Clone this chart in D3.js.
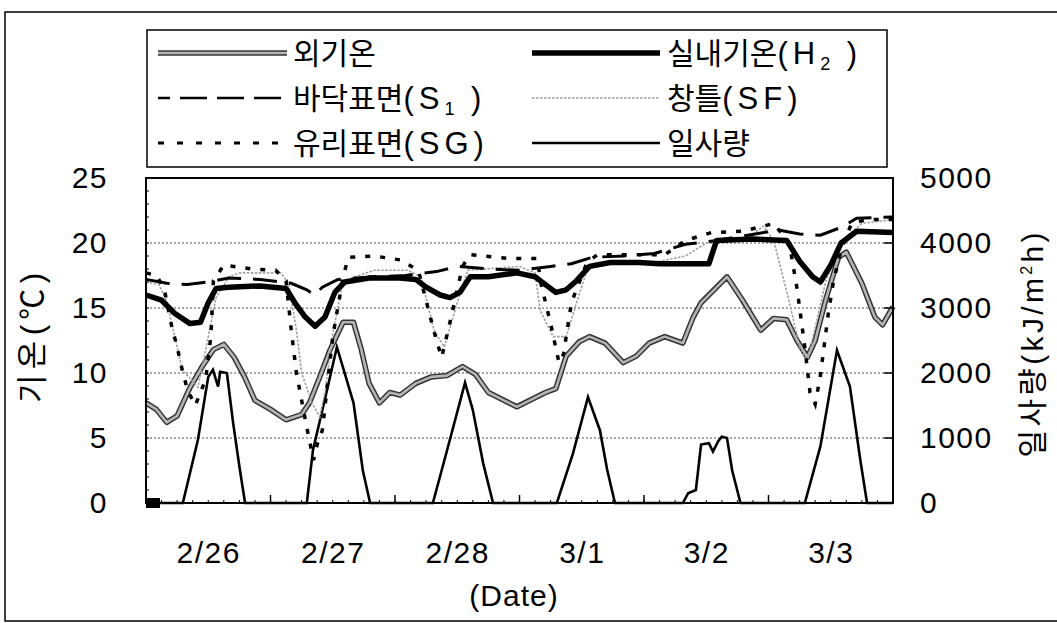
<!DOCTYPE html>
<html><head><meta charset="utf-8">
<script src="https://cdn.jsdelivr.net/npm/d3@7"></script>
<style>
html,body{margin:0;padding:0;background:#fff;}
svg{display:block;}
text{font-family:"Liberation Sans","Noto Sans CJK KR",sans-serif;fill:#000;}
</style></head>
<body>
<svg id="c" width="1057" height="623"></svg>
<script>
// ---------- data (hour since 2/26 00:00, value) ----------
const dateLabels = ["2/26","2/27","2/28","3/1","3/2","3/3"];
const tempTicks = [0,5,10,15,20,25];
const solarTicks = [0,1000,2000,3000,4000,5000];
const gridTemps = [5,10,15,20];

// 외기온 (outdoor air, °C)
const outdoor = [[0,7.7],[2,7.2],[4,6.2],[6,6.7],[8.5,8.9],[11,10.6],[13,11.8],[15,12.2],[17,11.2],[19,9.7],[21,7.9],[24,7.2],[27,6.4],[30,6.8],[31.5,7.7],[33.5,9.7],[35.5,11.8],[38,13.9],[40,13.9],[41.5,11.8],[43,9.2],[45,7.7],[47,8.5],[49,8.3],[52,9.2],[55,9.7],[58,9.8],[61,10.5],[63.5,9.9],[66,8.5],[69,7.9],[71.5,7.4],[74,7.9],[77,8.5],[79,8.8],[81,11.3],[83.5,12.4],[85.5,12.8],[88.5,12.3],[92,10.8],[94.5,11.3],[97,12.3],[100,12.8],[103.5,12.3],[105.5,14.3],[107,15.4],[109.5,16.4],[112,17.4],[115,15.6],[118.5,13.3],[121,14.2],[123.5,14.1],[125.5,12.5],[127.5,11.2],[129,12.5],[131,15.6],[133.5,18.9],[135,19.3],[138,16.9],[140.5,14.3],[142,13.7],[144,15.1]];
// 실내기온 (H2)
const indoor = [[0,16.0],[3,15.6],[5.5,14.6],[8.5,13.8],[10.5,13.9],[12,15.4],[13.5,16.5],[16,16.6],[22,16.7],[27,16.5],[28.7,15.4],[30.7,14.3],[32.6,13.6],[34.5,14.3],[36.4,16.2],[38.3,17.0],[43,17.3],[49,17.3],[52,17.2],[54,16.6],[56.7,16.0],[58.6,15.8],[60.5,16.2],[62.5,17.4],[66,17.4],[71.5,17.7],[75,17.4],[77,16.8],[79,16.2],[81,16.4],[83,17.1],[85.5,18.2],[89.5,18.5],[95,18.5],[99,18.4],[104,18.4],[108.5,18.4],[110,20.2],[117,20.3],[123.5,20.2],[126,18.6],[128.5,17.4],[130,17.0],[132,18.3],[134,20.0],[137,20.9],[144,20.8]];
// 바닥표면 (S1)
const floorS = [[0,17.2],[4,16.9],[8,16.8],[12,17.0],[16,17.3],[22,17.2],[28,16.9],[31,16.4],[32.5,16.0],[34,16.6],[37,17.2],[44,17.4],[50,17.5],[56,17.8],[60,18.2],[66,18.0],[72,17.9],[78,18.2],[82,18.4],[86,18.9],[92,19.0],[98,19.2],[104,19.9],[110,20.2],[116,20.6],[122,21.0],[126,20.7],[130,20.6],[134,21.2],[137,21.9],[144,22.0]];
// 창틀 (SF)
const frameSF = [[0,17.0],[2.5,16.8],[4,15.5],[6,12.0],[7,10.2],[8.5,9.6],[10,8.9],[11.5,11.8],[13.5,15.8],[16,17.4],[18,17.7],[26,17.7],[27.5,16.9],[29,13.3],[30,10.0],[32,7.7],[33.5,6.6],[34.5,8.5],[36,13.0],[38,17.1],[44,17.9],[50.5,17.9],[53,17.4],[55.5,13.3],[57.5,12.0],[60,15.4],[62,17.9],[72,18.2],[75,17.7],[76,14.8],[78.5,12.8],[81,12.8],[83,15.4],[85,17.9],[88,18.5],[98,18.5],[104,19.0],[108,20.0],[116,20.4],[119,21.3],[121,20.2],[124,15.5],[126,12.0],[127.5,11.0],[129,13.5],[131,17.0],[133,19.0],[135,20.5],[138,21.5],[144,21.8]];
// 유리표면 (SG)
const glassSG = [[0,17.7],[2,17.5],[3.5,16.5],[5,13.5],[6,12.0],[7,10.2],[8,8.7],[9.5,7.5],[11.5,9.5],[12.5,12.8],[13,17.1],[15,18.3],[20.5,18.0],[25,17.9],[27,17.1],[28,13.3],[29,10.0],[31,5.8],[32.3,3.3],[33,4.5],[34,5.6],[36,12.8],[38,17.4],[39,18.9],[44,19.0],[49,18.7],[52.5,17.9],[55,14.0],[56,12.5],[57,11.2],[59,14.6],[61,18.2],[62.5,19.1],[70,18.8],[75.5,18.8],[76,17.1],[78,13.8],[79.5,11.0],[80,10.8],[80.5,11.5],[82,15.4],[85,18.5],[87,19.1],[100,19.1],[104,20.2],[109,20.8],[115,20.9],[121,21.5],[124,20.0],[125.5,16.5],[127,12.0],[128,8.5],[129,7.6],[130,9.8],[131.5,14.5],[132.5,17.0],[134,19.5],[136,21.5],[139,21.8],[144,21.8]];
// 일사량 (kJ/m²h)
const solar = [[0,0],[7.1,0],[10,970],[12,1940],[12.9,2050],[13.9,1790],[14.3,2020],[15.6,2000],[16.8,1230],[18.1,510],[19.1,0],
 [31,0],[32.2,820],[34.5,1600],[36.8,2400],[40,1540],[41.8,500],[43.2,0],
 [55.3,0],[58,800],[61.5,1850],[63,1430],[65,610],[66.9,0],
 [79.2,0],[82.3,760],[85.2,1630],[87.5,1120],[88.9,510],[90.4,0],
 [103.5,0],[104.5,150],[106,200],[107,900],[108.5,920],[109.3,790],[110.3,950],[111,1020],[112,1000],[113,500],[114.6,0],
 [127,0],[130,870],[133.2,2350],[135.7,1790],[137.7,660],[139,0],[144,0]];

// ---------- drawing ----------
const svg = d3.select("#c");
const x = d3.scaleLinear().domain([0,144]).range([146,893]);
const y = d3.scaleLinear().domain([0,25]).range([503,178]);
const y2 = d3.scaleLinear().domain([0,5000]).range([503,178]);

// outer frame
svg.append("rect").attr("x",5).attr("y",12).attr("width",1080).attr("height",609)
  .attr("fill","none").attr("stroke","#000").attr("stroke-width",1.5);

// grid
svg.append("g").selectAll("line").data(gridTemps).join("line")
  .attr("x1",x(0)).attr("x2",x(144)).attr("y1",d=>y(d)).attr("y2",d=>y(d))
  .attr("stroke","#8a8a8a").attr("stroke-width",1.6).attr("stroke-dasharray","2,2");

const line = d3.line().x(d=>x(d[0])).y(d=>y(d[1]));
const lineS = d3.line().x(d=>x(d[0])).y(d=>y2(d[1]));
const plot = svg.append("g");

plot.append("path").datum(solar).attr("d",lineS).attr("fill","none").attr("stroke","#000").attr("stroke-width",2.6);
plot.append("path").datum(outdoor).attr("d",line).attr("fill","none").attr("stroke","#333").attr("stroke-width",5.5).attr("stroke-linejoin","round");
plot.append("path").datum(outdoor).attr("d",line).attr("fill","none").attr("stroke","#b4b4b4").attr("stroke-width",2.6).attr("stroke-linejoin","round");
plot.append("path").datum(frameSF).attr("d",line).attr("fill","none").attr("stroke","#a0a0a0").attr("stroke-width",1.6).attr("stroke-dasharray","2.5,1.5");
plot.append("path").datum(floorS).attr("d",line).attr("fill","none").attr("stroke","#000").attr("stroke-width",3).attr("stroke-dasharray","24,12");
plot.append("path").datum(glassSG).attr("d",line).attr("fill","none").attr("stroke","#000").attr("stroke-width",3.5).attr("stroke-dasharray","5,10");
plot.append("path").datum(indoor).attr("d",line).attr("fill","none").attr("stroke","#000").attr("stroke-width",5.5).attr("stroke-linejoin","round");

// start marker
plot.append("rect").attr("x",x(0)).attr("y",y(0)-5).attr("width",14).attr("height",10).attr("fill","#000");

// plot frame
svg.append("rect").attr("x",x(0)).attr("y",y(25)).attr("width",x(144)-x(0)).attr("height",y(0)-y(25))
  .attr("fill","none").attr("stroke","#000").attr("stroke-width",2);

// ticks (inward)
svg.append("g").selectAll("line").data(d3.range(24,144,24)).join("line")
  .attr("x1",d=>x(d)).attr("x2",d=>x(d)).attr("y1",y(0)).attr("y2",y(0)-8).attr("stroke","#000").attr("stroke-width",1.5);
svg.append("g").selectAll("line").data(d3.range(3,144,3)).join("line")
  .attr("x1",d=>x(d)).attr("x2",d=>x(d)).attr("y1",y(0)).attr("y2",y(0)-3).attr("stroke","#000").attr("stroke-width",1);
svg.append("g").selectAll("line").data(d3.range(1,25,1)).join("line")
  .attr("x1",x(0)).attr("x2",x(0)+3).attr("y1",d=>y(d)).attr("y2",d=>y(d)).attr("stroke","#000").attr("stroke-width",1);
svg.append("g").selectAll("line").data(solarTicks.slice(1,5)).join("line")
  .attr("x1",x(144)).attr("x2",x(144)-9).attr("y1",d=>y2(d)).attr("y2",d=>y2(d)).attr("stroke","#000").attr("stroke-width",1.5);

// axes labels
const axL = svg.append("g").attr("transform",`translate(${x(0)},0)`)
  .call(d3.axisLeft(y).tickValues(tempTicks).tickSize(0).tickPadding(38).tickFormat(d3.format("d")));
const axR = svg.append("g").attr("transform",`translate(${x(144)},0)`)
  .call(d3.axisRight(y2).tickValues(solarTicks).tickSize(0).tickPadding(27).tickFormat(d3.format("d")));
const axB = svg.append("g").attr("transform",`translate(0,${y(0)})`)
  .call(d3.axisBottom(x).tickValues(d3.range(12,144,24)).tickSize(0).tickPadding(39)
    .tickFormat((d,i)=>dateLabels[i]));
[axL,axR,axB].forEach(a=>{a.select(".domain").remove();
  a.selectAll("text").attr("font-size",30).attr("letter-spacing","1.5px")
   .attr("font-family","Liberation Sans, Noto Sans CJK KR, sans-serif").attr("fill","#000");});

svg.append("text").attr("x",514).attr("y",606).attr("text-anchor","middle").attr("font-size",30)
  .attr("letter-spacing","1px").text("(Date)");

// axis titles
const tL = svg.append("text").attr("transform","translate(43,338) rotate(-90)").attr("text-anchor","middle")
  .attr("font-size",31).attr("textLength",130).attr("lengthAdjust","spacing");
tL.text("기온(℃)");
const tR = svg.append("text").attr("transform","translate(1043,345) rotate(-90)").attr("text-anchor","middle")
  .attr("font-size",30).attr("textLength",225).attr("lengthAdjust","spacing");
tR.append("tspan").text("일사량(kJ/m");
tR.append("tspan").attr("font-size",16).attr("dy",-11).text("2");
tR.append("tspan").attr("dy",11).text("h)");

// legend
svg.append("rect").attr("x",147).attr("y",30).attr("width",740).attr("height",137)
  .attr("fill","#fff").attr("stroke","#000").attr("stroke-width",1.5);
// parts: [text, kind]  kind: ko = Korean, la = Latin, sub = subscript
const legendItems = [
  {col:0,row:0,parts:[["외기온","ko"]],style:"outdoor"},
  {col:0,row:1,parts:[["바닥표면","ko"],["(S","la"],["1","sub"],["  )","la"]],style:"floor"},
  {col:0,row:2,parts:[["유리표면","ko"],["(SG)","la"]],style:"glass"},
  {col:1,row:0,parts:[["실내기온","ko"],["(H","la"],["2","sub"],["  )","la"]],style:"indoor"},
  {col:1,row:1,parts:[["창틀","ko"],["(SF)","la"]],style:"frame"},
  {col:1,row:2,parts:[["일사량","ko"]],style:"solar"}
];
const colX = [[158,287,293],[532,660,667]];
const rowY = [53,98,143];
legendItems.forEach(it=>{
  const [x1,x2,tx] = colX[it.col]; const yy = rowY[it.row];
  const g = svg.append("g");
  const ln = ()=>g.append("line").attr("x1",x1).attr("x2",x2).attr("y1",yy).attr("y2",yy).attr("fill","none");
  if(it.style==="outdoor"){ ln().attr("stroke","#333").attr("stroke-width",5.5); ln().attr("stroke","#b4b4b4").attr("stroke-width",2.6); }
  if(it.style==="floor"){ ln().attr("stroke","#000").attr("stroke-width",2.5).attr("stroke-dasharray","12,10,27,10,27,10,27"); }
  if(it.style==="glass"){ ln().attr("stroke","#000").attr("stroke-width",3).attr("stroke-dasharray","6,13"); }
  if(it.style==="indoor"){ ln().attr("stroke","#000").attr("stroke-width",5.5); }
  if(it.style==="frame"){ ln().attr("stroke","#a0a0a0").attr("stroke-width",1.6).attr("stroke-dasharray","2.5,1.5"); }
  if(it.style==="solar"){ ln().attr("stroke","#000").attr("stroke-width",2.6); }
  const t = g.append("text").attr("x",tx).attr("y",yy+11);
  let shifted = false;
  it.parts.forEach(p=>{
    const s = t.append("tspan").text(p[0]);
    if(p[1]==="ko"){ s.attr("font-size",30).attr("font-family","Noto Sans CJK KR, sans-serif"); }
    if(p[1]==="la"){ s.attr("font-size",31).attr("letter-spacing","5px"); if(shifted){ s.attr("dy",-6); shifted=false; } }
    if(p[1]==="sub"){ s.attr("font-size",18).attr("dy",6).attr("letter-spacing","3px"); shifted=true; }
  });
});
</script>
</body></html>
